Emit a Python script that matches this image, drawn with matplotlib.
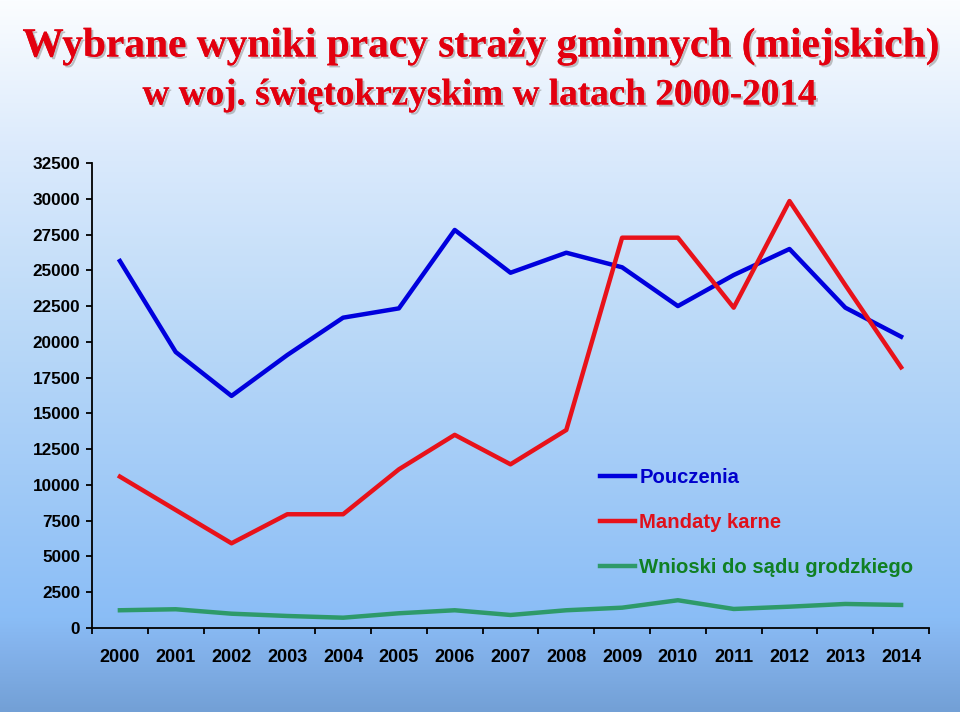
import matplotlib
matplotlib.use("Agg")
import matplotlib.pyplot as plt
import matplotlib.patheffects as pe
from matplotlib.colors import LinearSegmentedColormap
from matplotlib.ticker import FixedLocator
import numpy as np

years = ["2000", "2001", "2002", "2003", "2004", "2005", "2006", "2007",
         "2008", "2009", "2010", "2011", "2012", "2013", "2014"]
pouczenia = [25650, 19290, 16220, 19080, 21690, 22340, 27820, 24830,
             26230, 25210, 22500, 24670, 26490, 22390, 20360]
mandaty = [10580, 8250, 5920, 7950, 7950, 11090, 13500, 11440,
           13840, 27280, 27280, 22390, 29840, 23970, 18220]
wnioski = [1240, 1310, 1000, 840, 720, 1030, 1240, 910,
           1240, 1420, 1940, 1330, 1490, 1680, 1610]
series_names = ["Pouczenia", "Mandaty karne", "Wnioski do sądu grodzkiego"]
yticks = list(range(0, 32501, 2500))

plt.rcParams["font.family"] = ["Liberation Sans", "DejaVu Sans"]

fig = plt.figure(figsize=(9.6, 7.12), dpi=100)

# background gradient
bg = fig.add_axes([0, 0, 1, 1], zorder=-10)
cmap = LinearSegmentedColormap.from_list("bg", [
    (0.0, "#fbfdff"), (0.21, "#dbeafc"), (0.45, "#bcdaf8"),
    (0.87, "#8abdf6"), (0.91, "#84b3ec"), (1.0, "#73a0d6")])
grad = np.linspace(0, 1, 256).reshape(-1, 1)
bg.imshow(grad, aspect="auto", cmap=cmap, extent=[0, 1, 0, 1])
bg.axis("off")

ax = fig.add_axes([92 / 960, 1 - 628 / 712, 837 / 960, 465 / 712])
ax.set_facecolor("none")

x = np.arange(len(years))
ax.plot(x, pouczenia, color="#0000dd", lw=3.2, label=series_names[0])
ax.plot(x, mandaty, color="#e8121a", lw=3.2, label=series_names[1])
ax.plot(x, wnioski, color="#2e9a6a", lw=3.2, label=series_names[2])

ax.set_xlim(-0.5, len(years) - 0.5)
ax.set_ylim(0, 32500)
ax.set_yticks(yticks)
ax.set_xticks(x)
ax.set_xticklabels(years)
ax.xaxis.set_minor_locator(FixedLocator(np.arange(-0.5, len(years), 1.0)))
ax.tick_params(axis="x", which="major", length=0, pad=15, labelsize=13)
ax.tick_params(axis="x", which="minor", length=4.3, width=1.3, direction="out")
ax.tick_params(axis="y", length=4, width=1.3, labelsize=12.3, pad=4.5)
for lbl in ax.get_xticklabels() + ax.get_yticklabels():
    lbl.set_fontweight("bold")
ax.spines["top"].set_visible(False)
ax.spines["right"].set_visible(False)
ax.spines["left"].set_linewidth(1.3)
ax.spines["bottom"].set_linewidth(1.3)

leg = ax.legend(loc="upper left", bbox_to_anchor=(0.595, 0.365), frameon=False,
                prop={"size": 14.6, "weight": "bold"}, handlelength=1.72,
                handletextpad=0.22, labelspacing=1.27, borderpad=0)
for t, c in zip(leg.get_texts(), ["#0000cc", "#e0101a", "#108023"]):
    t.set_color(c)

shadow = [pe.withSimplePatchShadow(offset=(1.5, -1.5), shadow_rgbFace="#888888", alpha=0.5),
          pe.Normal()]
fig.text(0.501, 1 - 47 / 712, "Wybrane wyniki pracy straży gminnych (miejskich)",
         ha="center", va="center", fontsize=29.8, fontweight="bold",
         family="Liberation Serif", color="#e3000f", path_effects=shadow)
fig.text(0.5, 1 - 95 / 712, "w woj. świętokrzyskim w latach 2000-2014",
         ha="center", va="center", fontsize=26.8, fontweight="bold",
         family="Liberation Serif", color="#e3000f", path_effects=shadow)

fig.savefig("out.png", dpi=100)
